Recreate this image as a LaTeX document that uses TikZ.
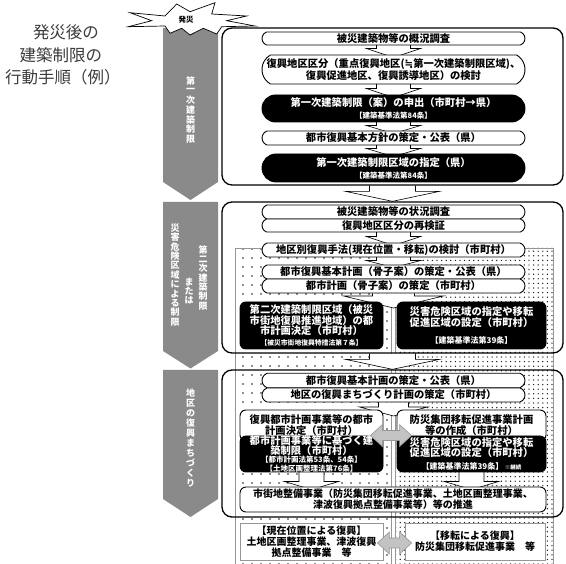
\documentclass[tikz,border=0pt]{standalone}
\usepackage{fontspec}
\setmainfont{Noto Sans CJK JP}
\newfontfamily\djv{DejaVu Sans}
\usetikzlibrary{calc,shapes.misc,patterns.meta}
\pgfdeclarelayer{dots}
\pgfdeclarelayer{arrows}
\pgfsetlayers{dots,arrows,main}
\definecolor{colgray}{RGB}{138,138,138}
\definecolor{dotcol}{RGB}{30,30,30}
\definecolor{bordgray}{RGB}{150,150,150}
\definecolor{dblgray}{RGB}{195,195,195}
\definecolor{titlecol}{RGB}{60,60,60}
\lineskiplimit=-100pt
\newcommand{\fsz}[2]{\fontsize{#1}{#2}\selectfont\lineskiplimit=-100pt\relax}
\newcommand{\hdown}[6]{%
  \path[hollow] let \p1=(#1), \p2=(#2) in
    (\x1-#3,\y1+#6) -- (\x1-#3,\y2+#5) -- (\x1-#4,\y2+#5) -- (\x1,\y2-#6)
    -- (\x1+#4,\y2+#5) -- (\x1+#3,\y2+#5) -- (\x1+#3,\y1+#6);}
\newcommand{\gdbl}[2]{%
  \path[dblarrow] let \p1=(#1), \p2=(#2) in
   (\x1,\y1) -- (\x1+12pt,\y1+11pt) -- (\x1+12pt,\y1+5pt) -- (\x2-12pt,\y1+5pt)
   -- (\x2-12pt,\y1+11pt) -- (\x2,\y1) -- (\x2-12pt,\y1-11pt) -- (\x2-12pt,\y1-5pt)
   -- (\x1+12pt,\y1-5pt) -- (\x1+12pt,\y1-11pt) -- cycle;}
\tikzset{
 hollow/.style={draw=black, fill=white, line width=0.6pt, line join=miter},
 dblarrow/.style={draw=bordgray, fill=dblgray, line width=0.6pt},
 frame/.style={draw=black, line width=1.3pt, rounded corners=10pt, minimum width=341pt, inner sep=0pt},
 wbox/.style={draw=black, fill=white, line width=0.9pt, rounded rectangle, rounded rectangle arc length=140, inner xsep=0pt, inner ysep=-2pt, minimum width=263pt, align=center, font=\fsz{10.3}{12}\bfseries},
 bbox/.style={wbox, fill=black, text=white, rounded rectangle arc length=180},
 sbox/.style={draw=black, fill=white, line width=0.9pt, rounded corners=6pt, inner xsep=0pt, inner ysep=-2pt, align=center, font=\fsz{10.3}{11}\bfseries},
 sbbox/.style={sbox, fill=black, text=white},
 gbox/.style={draw=bordgray, fill=white, line width=0.8pt, inner xsep=0pt, inner ysep=-2pt, align=center, font=\fsz{10}{11}\bfseries},
 vlabel/.style={text=white, inner sep=0pt, font=\fsz{9}{9}\bfseries},
 tline/.style={inner sep=0pt, font=\fsz{16.5}{20}, text=titlecol},
 pent/.style={fill=colgray},
}
\begin{document}
\begin{tikzpicture}[x=1pt,y=-1pt]
\useasboundingbox (0,0) rectangle (566,564);
\begin{pgfonlayer}{dots}
 \fill[white] (0,0) rectangle (566,564);
 \fill[pattern={Dots[distance=9pt,radius=0.85pt]}, pattern color=dotcol] (235,248) rectangle (391,564);
 \draw[bordgray, line width=0.6pt] (235,564) -- (235,248) -- (391,248) -- (391,564);
 \fill[pattern={Dots[distance=4.6pt,radius=0.72pt]}, pattern color=dotcol] (395,248) rectangle (553,564);
 \draw[bordgray, line width=0.6pt] (395,564) -- (395,248) -- (553,248) -- (553,564);
\end{pgfonlayer}

% title
\node[tline] (title1) at (66,32.5) {発災後の};
\node[tline] (title2) at (61,55) {建築制限の};
\node[tline] (title3) at (63,77) {行動手順（例）};

% gray column
\fill[pent] (163,28) -- (218,28) -- (218,182) -- (190.5,200) -- (163,182) -- cycle;
\fill[pent] (163,202) -- (218,202) -- (218,351) -- (190.5,368.5) -- (163,351) -- cycle;
\fill[pent] (163,370) -- (218,370) -- (218,499) -- (190.5,517) -- (163,499) -- cycle;
\foreach \c [count=\i] in {第,一,次,建,築,制,限}
  \node[vlabel] (la\i) at (190.5,{81+9.7*(\i-1)}) {\c};
\foreach \c [count=\i] in {災,害,危,険,区,域,に,よ,る,制,限}
  \node[vlabel] (lb\i) at (175,{228+9.4*(\i-1)}) {\c};
\foreach \c [count=\i] in {第,二,次,建,築,制,限}
  \node[vlabel] (lc\i) at (203,{250+9.3*(\i-1)}) {\c};
\foreach \c [count=\i] in {ま,た,は}
  \node[vlabel] (ld\i) at (189,{282+9.3*(\i-1)}) {\c};
\foreach \c [count=\i] in {地,区,の,復,興,ま,ち,づ,く,り}
  \node[vlabel] (le\i) at (190.5,{393+10*(\i-1)}) {\c};

% frames
\node[frame, minimum height=157pt] (f1) at (392.5,106.5) {};
\node[frame, minimum height=151pt] (f2) at (392.5,277.5) {};
\node[frame, minimum height=147pt] (f3) at (392.5,443.5) {};

% section 1
\node[wbox, minimum height=13pt] (s1a) at (393.5,38.5) {被災建築物等の概況調査};
\node[wbox, minimum height=29pt, rounded rectangle arc length=120] (s1b) at (393.5,69.5) {復興地区区分（重点復興地区({\djv ≒}第一次建築制限区域)、\\復興促進地区、復興誘導地区）の検討};
\node[bbox, minimum height=27pt] (s1c) at (393.5,108.5) {第一次建築制限（案）の申出（市町村→県）\\{\fsz{7.5}{9}【建築基準法第84条】}};
\node[wbox, minimum height=14pt] (s1d) at (393.5,138) {都市復興基本方針の策定・公表（県）};
\node[bbox, minimum height=28pt] (s1e) at (393.5,168) {第一次建築制限区域の指定（県）\\{\fsz{7.5}{9}【建築基準法第84条】}};

% section 2
\node[wbox, minimum height=14pt] (s2a) at (393.5,212) {被災建築物等の状況調査};
\node[wbox, minimum height=13pt] (s2b) at (393.5,225.5) {復興地区区分の再検証};
\node[wbox, minimum height=14pt] (s2c) at (393.5,250) {地区別復興手法(現在位置・移転)の検討（市町村）};
\node[wbox, minimum height=14pt] (s2d) at (393.5,272) {都市復興基本計画（骨子案）の策定・公表（県）};
\node[wbox, minimum height=14pt] (s2e) at (393.5,286) {都市計画（骨子案）の策定（市町村）};
\coordinate (fork2) at (393.5,308);
\node[sbbox, minimum width=143pt, minimum height=47pt, font=\fsz{10.3}{10.5}\bfseries] (s2f) at (311.5,325.5) {第二次建築制限区域（被災\\市街地復興推進地域）の都\\市計画決定（市町村）\\{\fsz{6.8}{8}【被災市街地復興特措法第７条】}};
\node[sbbox, minimum width=149pt, minimum height=47pt, font=\fsz{10.3}{10.5}\bfseries] (s2g) at (471.5,325.5) {災害危険区域の指定や移転\\促進区域の設定（市町村）\\[7pt]{\fsz{8}{9}【建築基準法第39条】}};

% section 3
\node[wbox, minimum height=14.5pt] (s3a) at (393.5,380.5) {都市復興基本計画の策定・公表（県）};
\node[wbox, minimum height=14pt] (s3b) at (393.5,395) {地区の復興まちづくり計画の策定（市町村）};
\coordinate (fork3) at (393.5,416);
\node[sbox, minimum width=143pt, minimum height=31pt] (s3c) at (311.5,425.5) {復興都市計画事業等の都市\\計画決定（市町村）};
\node[sbox, minimum width=149pt, minimum height=31pt] (s3e) at (471.5,425.5) {防災集団移転促進事業計画\\等の作成（市町村）};
\node[sbbox, minimum width=143pt, minimum height=36pt, font=\fsz{10.3}{9.5}\bfseries] (s3d) at (311.5,454) {都市計画事業等に基づく建\\築制限（市町村）\\[-1pt]{\fsz{7.5}{7.5}【都市計画法第53条、54条】}\\[-1pt]{\fsz{7.5}{7.5}【土地区画整理法第76条】}};
\node[sbbox, minimum width=149pt, minimum height=36pt, font=\fsz{10.3}{10}\bfseries] (s3f) at (471.5,454) {災害危険区域の指定や移転\\促進区域の設定（市町村）\\[3pt]{\fsz{8}{9}【建築基準法第39条】}\,{\fsz{5.5}{6}※継続}};
\node[sbox, minimum width=306pt, minimum height=25pt, font=\fsz{10}{11}\bfseries] (s3g) at (393,499.5) {市街地整備事業（防災集団移転促進事業、土地区画整理事業、\\津波復興拠点整備事業等）等の推進};

% bottom
\node[gbox, minimum width=143pt, minimum height=37pt] (b1) at (311.5,541.5) {【現在位置による復興】\\土地区画整理事業、津波復興\\拠点整備事業　等};
\node[gbox, minimum width=140pt, minimum height=37pt] (b2) at (475,541.5) {【移転による復興】\\防災集団移転促進事業　等};

% hollow arrows
\begin{pgfonlayer}{arrows}
 \hdown{s1a.south}{s1b.north}{17pt}{27pt}{6pt}{3pt}
 \hdown{s1b.south}{s1c.north}{17pt}{27pt}{6pt}{3pt}
 \hdown{s1c.south}{s1d.north}{17pt}{27pt}{5pt}{3pt}
 \hdown{s1d.south}{s1e.north}{17pt}{27pt}{5pt}{3pt}
 \hdown{f1.south}{f2.north}{23pt}{47pt}{10pt}{0pt}
 \hdown{s2b.south}{s2c.north}{17pt}{27pt}{6pt}{3pt}
 \hdown{s2c.south}{s2d.north}{17pt}{27pt}{4pt}{3pt}
 \hdown{s2e.south}{fork2}{21pt}{50pt}{12pt}{0pt}
 \hdown{f2.south}{f3.north}{23pt}{47pt}{10pt}{0pt}
 \hdown{s3b.south}{fork3}{15pt}{34pt}{9pt}{0pt}
 \hdown{s3d.south}{s3g.north}{12.5pt}{27pt}{5pt}{3pt}
 \hdown{s3f.south}{s3g.north}{12.5pt}{27pt}{5pt}{3pt}
\end{pgfonlayer}

% gray double arrows
\coordinate (da1l) at ([xshift=-13pt]s3c.east |- s3d.north);
\coordinate (da1r) at ([xshift=15pt]s3e.west |- s3d.north);
\gdbl{da1l}{da1r}
\coordinate (da2l) at ([xshift=-6pt,yshift=-1.5pt]b1.east);
\coordinate (da2r) at ([xshift=7pt,yshift=-1.5pt]b2.west);
\gdbl{da2l}{da2r}

% starburst
\filldraw[fill=white, draw=black, line width=0.7pt] (130,12.7) -- (165,16) -- (176.7,4) -- (190,11.7) -- (215,2.7) -- (211.7,14) -- (246.7,16) -- (226.7,20.7) -- (255,26) -- (221.7,26.7) -- (216.7,34) -- (203.3,28.3) -- (190,35) -- (181.7,28.3) -- (170,33.3) -- (165,26) -- (128.3,26.7) -- (151.7,20.7) -- cycle;
\node[font=\fsz{7.5}{8}\bfseries] (hassai) at (186,20) {発災};
\end{tikzpicture}
\end{document}
